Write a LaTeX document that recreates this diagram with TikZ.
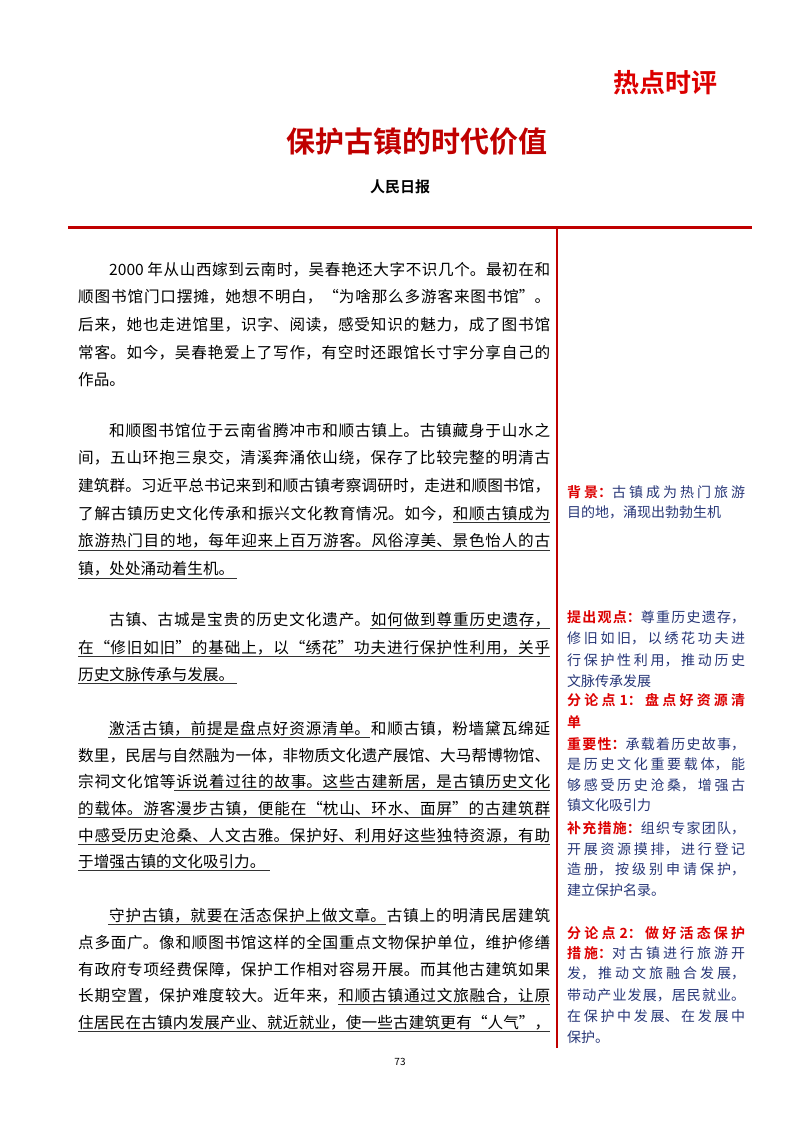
\documentclass[tikz,border=0pt]{standalone}
\usepackage{fontspec}
\setmainfont{Noto Sans CJK SC}[BoldFont={Noto Sans CJK SC Bold}]
\XeTeXlinebreaklocale "zh"
\XeTeXlinebreakskip=0pt plus 6pt
\definecolor{dred}{RGB}{192,0,0}
\definecolor{lred}{RGB}{220,0,0}
\definecolor{navy}{RGB}{40,55,120}
\newcommand{\mfs}{\fontsize{15.6}{18}\selectfont}
\newcommand{\sfs}{\fontsize{14}{16}\selectfont}
\tikzset{
 ml/.style={anchor=base west, inner sep=0pt, text width=472pt, align=justify, font=\mfs},
 mf/.style={ml, execute at begin node={\parfillskip=0pt}},
 sl/.style={anchor=base west, inner sep=0pt, text width=178pt, align=justify, font=\sfs, text=navy},
 sf/.style={sl, execute at begin node={\parfillskip=0pt}},
 ul/.style={line width=0.8pt, black!80}
}
\newcommand{\lb}[1]{{\color{lred}\bfseries #1}}
\begin{document}
\begin{tikzpicture}[x=1pt,y=-1pt]
\useasboundingbox[fill=white] (0,0) rectangle (800,1132);
% header
\node[text=lred, font=\fontsize{26}{28}\selectfont\bfseries] (hd) at (665,83) {热点时评};
\node[text=dred, font=\fontsize{29}{32}\selectfont\bfseries] (title) at (417,142) {保护古镇的时代价值};
\node[font=\fontsize{15}{17}\selectfont\bfseries] (src) at (400,187) {人民日报};
\draw[dred, line width=3pt] (68,227) -- (752,227);
\draw[dred, line width=2.5pt] (557,227) -- (557,1048);
% paragraph 1
\node[mf] (p1a) at (78,275) {\hspace*{31pt}2000 年从山西嫁到云南时，吴春艳还大字不识几个。最初在和};
\node[mf] (p1b) at (78,302.7) {顺图书馆门口摆摊，她想不明白，“为啥那么多游客来图书馆”。};
\node[mf] (p1c) at (78,330.4) {后来，她也走进馆里，识字、阅读，感受知识的魅力，成了图书馆};
\node[mf] (p1d) at (78,358) {常客。如今，吴春艳爱上了写作，有空时还跟馆长寸宇分享自己的};
\node[ml] (p1e) at (78,385.7) {作品。};
% paragraph 2
\node[mf] (p2a) at (78,436) {\hspace*{31pt}和顺图书馆位于云南省腾冲市和顺古镇上。古镇藏身于山水之};
\node[mf] (p2b) at (78,463.7) {间，五山环抱三泉交，清溪奔涌依山绕，保存了比较完整的明清古};
\node[mf] (p2c) at (78,491.4) {建筑群。习近平总书记来到和顺古镇考察调研时，走进和顺图书馆，};
\node[mf] (p2d) at (78,519) {了解古镇历史文化传承和振兴文化教育情况。如今，和顺古镇成为};
\node[mf] (p2e) at (78,546.8) {旅游热门目的地，每年迎来上百万游客。风俗淳美、景色怡人的古};
\node[ml] (p2f) at (78,574.5) {镇，处处涌动着生机。};
\draw[ul] (453,522.5) -- (550,522.5);
\draw[ul] (78,550.3) -- (550,550.3);
\draw[ul] (78,578) -- (237,578);
% paragraph 3
\node[mf] (p3a) at (78,625) {\hspace*{31pt}古镇、古城是宝贵的历史文化遗产。如何做到尊重历史遗存，};
\node[mf] (p3b) at (78,653) {在“修旧如旧”的基础上，以“绣花”功夫进行保护性利用，关乎};
\node[ml] (p3c) at (78,680) {历史文脉传承与发展。};
\draw[ul] (370,628.5) -- (550,628.5);
\draw[ul] (78,656.5) -- (550,656.5);
\draw[ul] (78,683.5) -- (237,683.5);
% paragraph 4
\node[mf] (p4a) at (78,734) {\hspace*{31pt}激活古镇，前提是盘点好资源清单。和顺古镇，粉墙黛瓦绵延};
\node[mf] (p4b) at (78,761.5) {数里，民居与自然融为一体，非物质文化遗产展馆、大马帮博物馆、};
\node[mf] (p4c) at (78,787) {宗祠文化馆等诉说着过往的故事。这些古建新居，是古镇历史文化};
\node[mf] (p4d) at (78,814) {的载体。游客漫步古镇，便能在“枕山、环水、面屏”的古建筑群};
\node[mf] (p4e) at (78,841) {中感受历史沧桑、人文古雅。保护好、利用好这些独特资源，有助};
\node[ml] (p4f) at (78,867) {于增强古镇的文化吸引力。};
\draw[ul] (108,737.5) -- (370,737.5);
\draw[ul] (174,790.5) -- (550,790.5);
\draw[ul] (78,817.5) -- (550,817.5);
\draw[ul] (78,844.5) -- (550,844.5);
\draw[ul] (78,870.5) -- (270,870.5);
% paragraph 5
\node[mf] (p5a) at (78,921) {\hspace*{31pt}守护古镇，就要在活态保护上做文章。古镇上的明清民居建筑};
\node[mf] (p5b) at (78,948) {点多面广。像和顺图书馆这样的全国重点文物保护单位，维护修缮};
\node[mf] (p5c) at (78,975) {有政府专项经费保障，保护工作相对容易开展。而其他古建筑如果};
\node[mf] (p5d) at (78,1001) {长期空置，保护难度较大。近年来，和顺古镇通过文旅融合，让原};
\node[mf] (p5e) at (78,1028) {住居民在古镇内发展产业、就近就业，使一些古建筑更有“人气”，};
\draw[ul] (108,924.5) -- (386,924.5);
\draw[ul] (338,1004.5) -- (550,1004.5);
\draw[ul] (78,1031.5) -- (550,1031.5);
\node[font=\fontsize{10}{12}\selectfont] (pg) at (400,1062) {73};
% sidebar
\node[sf] (s1) at (567,497) {\lb{背景：}古镇成为热门旅游};
\node[sl] (s2) at (567,517) {目的地，涌现出勃勃生机};
\node[sf] (s3) at (567,622) {\lb{提出观点：}尊重历史遗存，};
\node[sf] (s4) at (567,643) {修旧如旧，以绣花功夫进};
\node[sf] (s5) at (567,665) {行保护性利用，推动历史};
\node[sl] (s6) at (567,686) {文脉传承发展};
\node[sf] (s7) at (567,705) {\lb{分论点 1：盘点好资源清}};
\node[sl] (s8) at (567,727) {\lb{单}};
\node[sf] (s9) at (567,749) {\lb{重要性：}承载着历史故事，};
\node[sf] (s10) at (567,769) {是历史文化重要载体，能};
\node[sf] (s11) at (567,790) {够感受历史沧桑，增强古};
\node[sl] (s12) at (567,810) {镇文化吸引力};
\node[sf] (s13) at (567,833) {\lb{补充措施：}组织专家团队，};
\node[sf] (s14) at (567,854) {开展资源摸排，进行登记};
\node[sf] (s15) at (567,874) {造册，按级别申请保护，};
\node[sl] (s16) at (567,895) {建立保护名录。};
\node[sf] (s17) at (567,938) {\lb{分论点 2：做好活态保护}};
\node[sf] (s18) at (567,958) {\lb{措施：}对古镇进行旅游开};
\node[sf] (s19) at (567,978) {发，推动文旅融合发展，};
\node[sf] (s20) at (567,1000) {带动产业发展，居民就业。};
\node[sf] (s21) at (567,1021) {在保护中发展、在发展中};
\node[sl] (s22) at (567,1042) {保护。};
\end{tikzpicture}
\end{document}
